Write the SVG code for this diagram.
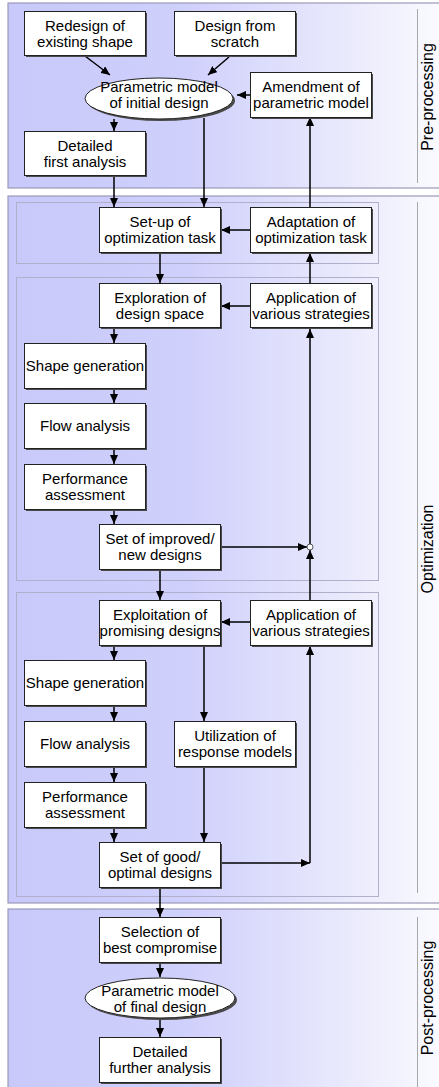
<svg xmlns="http://www.w3.org/2000/svg" width="439" height="1087" viewBox="0 0 439 1087">
<defs>
<linearGradient id="bg" gradientUnits="userSpaceOnUse" x1="8" y1="0" x2="439" y2="0">
<stop offset="0" stop-color="#c8c8fa"/>
<stop offset="0.42" stop-color="#d0d0fc"/>
<stop offset="0.85" stop-color="#eeeefd"/>
<stop offset="1" stop-color="#fafaff"/>
</linearGradient>
<marker id="ah" markerUnits="userSpaceOnUse" markerWidth="9" markerHeight="8" refX="9" refY="4" orient="auto">
<path d="M0,0 L9,4 L0,8 z" fill="#000"/>
</marker>
<style>
.panel{fill:url(#bg);stroke:#9a9ab8;stroke-width:1.2}
.sub{fill:none;stroke:#b0b0cc;stroke-width:1}
.div{stroke:#a8a8a8;stroke-width:1}
.sh{fill:#4a4a4a}
.box{fill:#fff;stroke:#222;stroke-width:1}
text{font-family:"Liberation Sans",Arial,sans-serif;font-size:15px;fill:#000;text-anchor:middle}
.lab{font-size:16px}
.c{fill:none;stroke:#000;stroke-width:1.5;marker-end:url(#ah)}
.cn{fill:none;stroke:#000;stroke-width:1.5}
</style>
</defs>
<g id="panels">
<rect class="panel" x="8" y="3" width="440" height="185"/>
<rect class="panel" x="8" y="196" width="440" height="707"/>
<rect class="panel" x="8" y="909" width="440" height="190"/>
<rect class="sub" x="16.5" y="202.5" width="362" height="61"/>
<rect class="sub" x="16.5" y="277.5" width="362" height="303"/>
<rect class="sub" x="16.5" y="592.5" width="362" height="304"/>
<line class="div" x1="417.5" y1="9" x2="417.5" y2="183"/>
<line class="div" x1="417.5" y1="202" x2="417.5" y2="893"/>
<line class="div" x1="417.5" y1="917" x2="417.5" y2="1087"/>
<text class="lab" transform="translate(433,97) rotate(-90)">Pre-processing</text>
<text class="lab" transform="translate(433,549) rotate(-90)">Optimization</text>
<text class="lab" transform="translate(433,998) rotate(-90)">Post-processing</text>
</g>
<g id="connectors">
<line class="c" x1="85" y1="56" x2="110" y2="75"/>
<line class="c" x1="229" y1="57" x2="208" y2="75"/>
<line class="c" x1="250" y1="95" x2="237" y2="95"/>
<line class="c" x1="114" y1="119" x2="114" y2="131"/>
<line class="c" x1="204" y1="118" x2="204" y2="207"/>
<line class="c" x1="114" y1="176" x2="114" y2="207"/>
<line class="c" x1="310" y1="207" x2="310" y2="117"/>
<line class="c" x1="250" y1="230" x2="221" y2="230"/>
<line class="c" x1="160" y1="253" x2="160" y2="283"/>
<line class="c" x1="310" y1="283" x2="310" y2="253"/>
<line class="c" x1="250" y1="306" x2="221" y2="306"/>
<line class="c" x1="114" y1="328" x2="114" y2="343"/>
<line class="c" x1="114" y1="389" x2="114" y2="403"/>
<line class="c" x1="114" y1="449" x2="114" y2="464"/>
<line class="c" x1="114" y1="510" x2="114" y2="524"/>
<line class="c" x1="221" y1="547" x2="307" y2="547"/>
<line class="c" x1="310" y1="544" x2="310" y2="329"/>
<line class="c" x1="310" y1="600" x2="310" y2="550"/>
<circle cx="310" cy="547" r="3" fill="#fff" stroke="#555" stroke-width="1"/>
<line class="c" x1="160" y1="570" x2="160" y2="600"/>
<line class="c" x1="250" y1="622" x2="221" y2="622"/>
<line class="c" x1="114" y1="646" x2="114" y2="660"/>
<line class="c" x1="204" y1="646" x2="204" y2="721"/>
<line class="c" x1="114" y1="706" x2="114" y2="721"/>
<line class="c" x1="114" y1="767" x2="114" y2="782"/>
<line class="c" x1="114" y1="828" x2="114" y2="842"/>
<line class="c" x1="204" y1="767" x2="204" y2="842"/>
<line class="c" x1="221" y1="863" x2="310" y2="863"/>
<line class="c" x1="310" y1="863" x2="310" y2="646"/>
<line class="c" x1="160" y1="888" x2="160" y2="917"/>
<line class="c" x1="160" y1="963" x2="160" y2="977"/>
<line class="c" x1="160" y1="1018" x2="160" y2="1037"/>
</g>
<g id="redesign"><rect class="sh" x="26" y="13" width="121" height="44"/><rect class="box" x="24.5" y="11.5" width="121" height="44"/><text x="85" y="31">Redesign of</text><text x="85" y="47">existing shape</text></g>
<g id="scratch"><rect class="sh" x="176" y="13" width="121" height="44"/><rect class="box" x="174.5" y="11.5" width="121" height="44"/><text x="235" y="31">Design from</text><text x="235" y="47">scratch</text></g>
<g id="param-initial"><ellipse cx="161" cy="100.5" rx="74" ry="20.5" fill="#4a4a4a"/><ellipse cx="159" cy="98.5" rx="74" ry="20.5" fill="#fff" stroke="#222" stroke-width="1"/><text x="159" y="92">Parametric model</text><text x="159" y="108">of initial design</text></g>
<g id="amendment"><rect class="sh" x="252" y="74" width="121" height="45"/><rect class="box" x="250.5" y="72.5" width="121" height="45"/><text x="311" y="92">Amendment of</text><text x="311" y="108">parametric model</text></g>
<g id="detailed-first"><rect class="sh" x="26" y="133" width="121" height="44"/><rect class="box" x="24.5" y="131.5" width="121" height="44"/><text x="85" y="151">Detailed</text><text x="85" y="167">first analysis</text></g>
<g id="setup"><rect class="sh" x="101" y="209" width="121" height="45"/><rect class="box" x="99.5" y="207.5" width="121" height="45"/><text x="160" y="227">Set-up of</text><text x="160" y="243">optimization task</text></g>
<g id="adaptation"><rect class="sh" x="252" y="209" width="121" height="45"/><rect class="box" x="250.5" y="207.5" width="121" height="45"/><text x="311" y="227">Adaptation of</text><text x="311" y="243">optimization task</text></g>
<g id="exploration"><rect class="sh" x="101" y="285" width="121" height="44"/><rect class="box" x="99.5" y="283.5" width="121" height="44"/><text x="160" y="303">Exploration of</text><text x="160" y="319">design space</text></g>
<g id="application1"><rect class="sh" x="252" y="285" width="121" height="44"/><rect class="box" x="250.5" y="283.5" width="121" height="44"/><text x="311" y="303">Application of</text><text x="311" y="319">various strategies</text></g>
<g id="shape1"><rect class="sh" x="26" y="345" width="121" height="45"/><rect class="box" x="24.5" y="343.5" width="121" height="45"/><text x="85" y="371">Shape generation</text></g>
<g id="flow1"><rect class="sh" x="26" y="405" width="121" height="45"/><rect class="box" x="24.5" y="403.5" width="121" height="45"/><text x="85" y="431">Flow analysis</text></g>
<g id="perf1"><rect class="sh" x="26" y="466" width="121" height="45"/><rect class="box" x="24.5" y="464.5" width="121" height="45"/><text x="85" y="484">Performance</text><text x="85" y="500">assessment</text></g>
<g id="improved"><rect class="sh" x="101" y="526" width="121" height="45"/><rect class="box" x="99.5" y="524.5" width="121" height="45"/><text x="160" y="544">Set of improved/</text><text x="160" y="560">new designs</text></g>
<g id="exploitation"><rect class="sh" x="101" y="602" width="121" height="45"/><rect class="box" x="99.5" y="600.5" width="121" height="45"/><text x="160" y="620">Exploitation of</text><text x="160" y="636">promising designs</text></g>
<g id="application2"><rect class="sh" x="252" y="602" width="121" height="45"/><rect class="box" x="250.5" y="600.5" width="121" height="45"/><text x="311" y="620">Application of</text><text x="311" y="636">various strategies</text></g>
<g id="shape2"><rect class="sh" x="26" y="662" width="121" height="45"/><rect class="box" x="24.5" y="660.5" width="121" height="45"/><text x="85" y="688">Shape generation</text></g>
<g id="flow2"><rect class="sh" x="26" y="723" width="121" height="45"/><rect class="box" x="24.5" y="721.5" width="121" height="45"/><text x="85" y="749">Flow analysis</text></g>
<g id="utilization"><rect class="sh" x="176" y="723" width="121" height="45"/><rect class="box" x="174.5" y="721.5" width="121" height="45"/><text x="235" y="741">Utilization of</text><text x="235" y="757">response models</text></g>
<g id="perf2"><rect class="sh" x="26" y="784" width="121" height="45"/><rect class="box" x="24.5" y="782.5" width="121" height="45"/><text x="85" y="802">Performance</text><text x="85" y="818">assessment</text></g>
<g id="good"><rect class="sh" x="101" y="844" width="121" height="45"/><rect class="box" x="99.5" y="842.5" width="121" height="45"/><text x="160" y="862">Set of good/</text><text x="160" y="878">optimal designs</text></g>
<g id="selection"><rect class="sh" x="101" y="919" width="121" height="45"/><rect class="box" x="99.5" y="917.5" width="121" height="45"/><text x="160" y="937">Selection of</text><text x="160" y="953">best compromise</text></g>
<g id="param-final"><ellipse cx="162" cy="1000" rx="75" ry="20" fill="#4a4a4a"/><ellipse cx="160" cy="998" rx="75" ry="20" fill="#fff" stroke="#222" stroke-width="1"/><text x="160" y="996">Parametric model</text><text x="160" y="1012">of final design</text></g>
<g id="detailed-further"><rect class="sh" x="101" y="1039" width="121" height="45"/><rect class="box" x="99.5" y="1037.5" width="121" height="45"/><text x="160" y="1057">Detailed</text><text x="160" y="1073">further analysis</text></g>
</svg>
